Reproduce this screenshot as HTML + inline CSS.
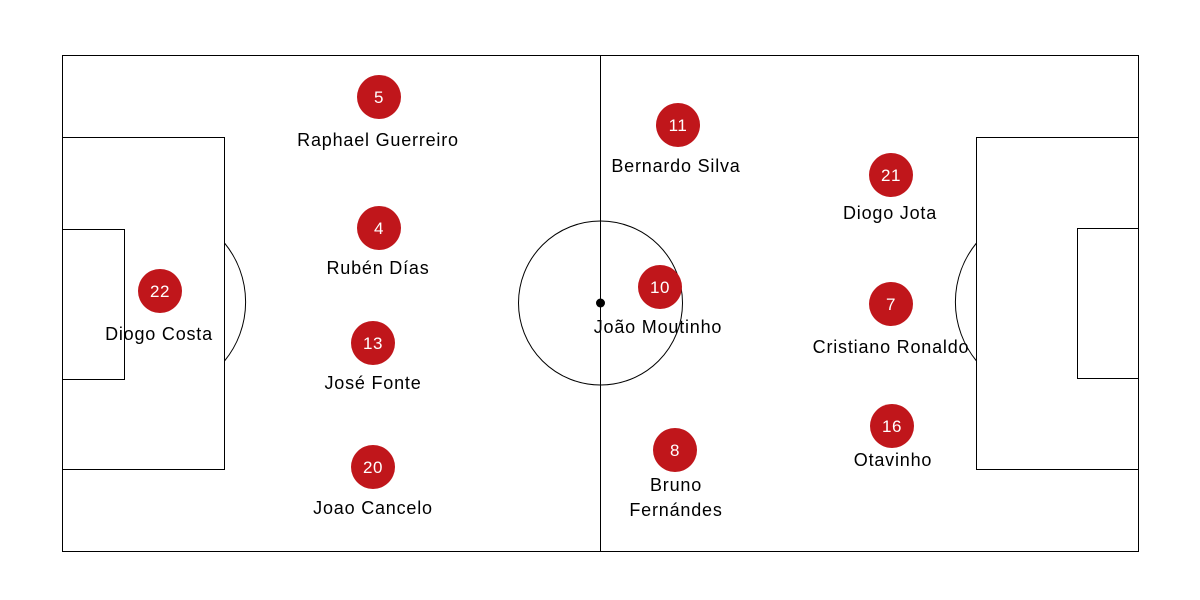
<!DOCTYPE html>
<html><head><meta charset="utf-8"><style>
html,body{margin:0;padding:0;background:#fff;}
svg{display:block;}
text{font-family:"Liberation Sans",sans-serif;}
</style></head><body>
<svg width="1200" height="600" viewBox="0 0 1200 600" xmlns="http://www.w3.org/2000/svg">
<g fill="none" stroke="#000" stroke-width="1">
<rect x="62.5" y="55.5" width="1076" height="496"/>
<line x1="600.5" y1="55" x2="600.5" y2="551"/>
<circle cx="600.5" cy="303" r="82"/>
<rect x="62.5" y="137.5" width="162" height="332"/>
<rect x="62.5" y="229.5" width="62" height="150"/>
<path d="M224.5 243 A93 93 0 0 1 224.5 361"/>
<rect x="976.5" y="137.5" width="162" height="332"/>
<rect x="1077.5" y="228.5" width="61" height="150"/>
<path d="M976.5 243 A93 93 0 0 0 976.5 361"/>
</g>
<circle cx="600.5" cy="303" r="4.5" fill="#000"/>
<g fill="#c0161b">
<circle cx="379" cy="97" r="22"/><circle cx="379" cy="228" r="22"/>
<circle cx="373" cy="343" r="22"/><circle cx="373" cy="467" r="22"/>
<circle cx="160" cy="291" r="22"/><circle cx="678" cy="125" r="22"/>
<circle cx="660" cy="287" r="22"/><circle cx="675" cy="450" r="22"/>
<circle cx="891" cy="175" r="22"/><circle cx="891" cy="304" r="22"/>
<circle cx="892" cy="426" r="22"/>
</g>
<g fill="#fff" font-size="17" text-anchor="middle" letter-spacing="0.5">
<text x="379" y="103">5</text><text x="379" y="234">4</text>
<text x="373" y="349">13</text><text x="373" y="473">20</text>
<text x="160" y="297">22</text><text x="678" y="131">11</text>
<text x="660" y="293">10</text><text x="675" y="456">8</text>
<text x="891" y="181">21</text><text x="891" y="310">7</text>
<text x="892" y="432">16</text>
</g>
<g fill="#000" font-size="18" text-anchor="middle" letter-spacing="0.8">
<text x="378" y="146">Raphael Guerreiro</text>
<text x="378" y="274">Rubén Días</text>
<text x="373" y="389">José Fonte</text>
<text x="373" y="514">Joao Cancelo</text>
<text x="159" y="340">Diogo Costa</text>
<text x="676" y="172">Bernardo Silva</text>
<text x="658" y="333">João Moutinho</text>
<text x="676" y="491">Bruno</text>
<text x="676" y="516">Fernándes</text>
<text x="890" y="219">Diogo Jota</text>
<text x="891" y="353">Cristiano Ronaldo</text>
<text x="893" y="466">Otavinho</text>
</g>
</svg>
</body></html>
